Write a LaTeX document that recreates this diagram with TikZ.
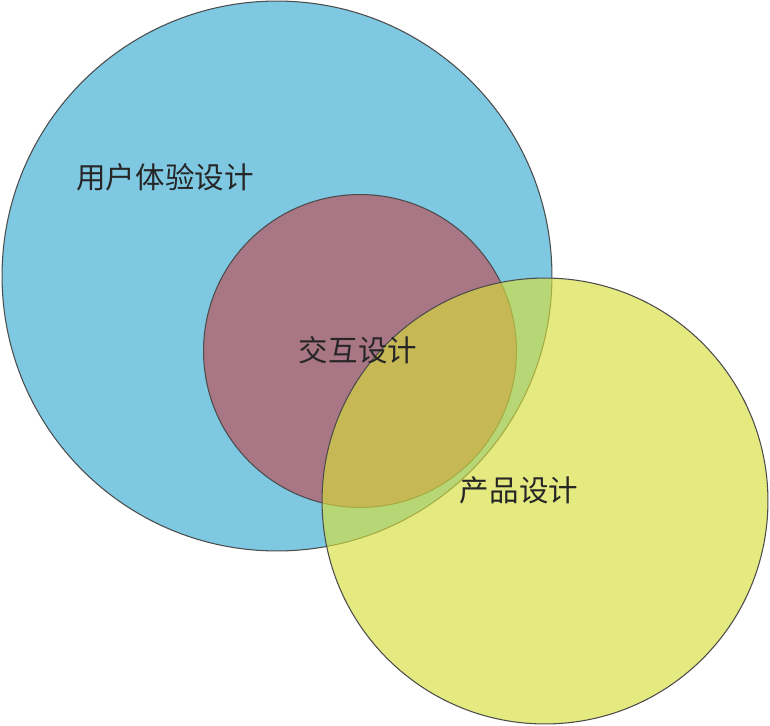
\documentclass[tikz,border=0pt]{standalone}
\usepackage{fontspec}
\newfontfamily\cjk{Noto Sans CJK SC}
\usetikzlibrary{positioning}

\definecolor{uxblue}{RGB}{126,200,226}
\definecolor{ixred}{RGB}{168,118,132}
\definecolor{pdyellow}{RGB}{215,222,60}

\tikzset{
  ring/.style={circle,draw=black!70,line width=0.6pt,inner sep=0pt},
  label/.style={font=\cjk\fontsize{16.8}{17}\selectfont,text=black!85}
}

\begin{document}
\begin{tikzpicture}[x=0.02cm,y=-0.02cm]
  \useasboundingbox (0,0) rectangle (770,726);
  \node[ring,fill=uxblue,minimum size=11cm] (ux) at (277,276) {};
  \node[ring,fill=ixred,minimum size=6.26cm] (ix) at (360,351) {};
  \node[ring,fill=pdyellow,fill opacity=0.65,minimum size=8.92cm] (pd) at (545,501) {};
  \node[label] (uxt) at (165,177) {用户体验设计};
  \node[label] (ixt) at (358,350) {交互设计};
  \node[label] (pdt) at (519,490) {产品设计};
\end{tikzpicture}
\end{document}
